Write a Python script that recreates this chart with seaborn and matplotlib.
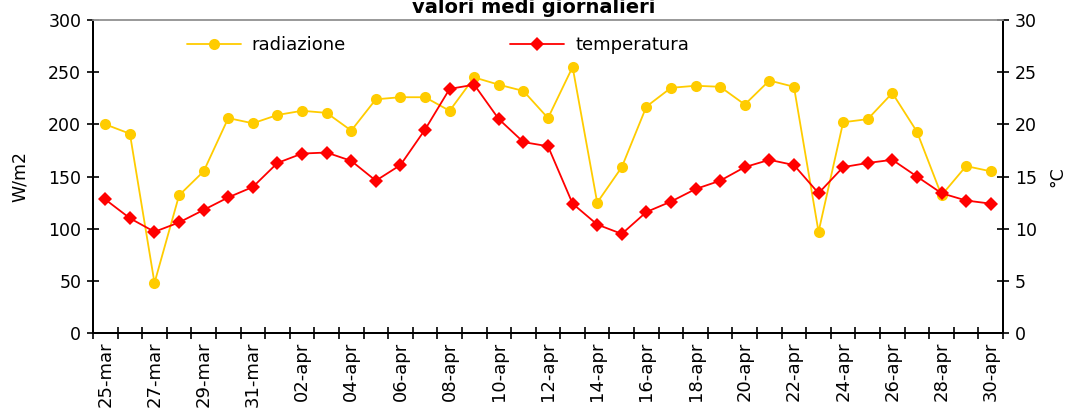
import pandas as pd
import seaborn as sns
import matplotlib.pyplot as plt
from matplotlib.ticker import FixedLocator, MultipleLocator

# daily values, 25-mar .. 30-apr
days = ['25-mar', '26-mar', '27-mar', '28-mar', '29-mar', '30-mar', '31-mar',
        '01-apr', '02-apr', '03-apr', '04-apr', '05-apr', '06-apr', '07-apr',
        '08-apr', '09-apr', '10-apr', '11-apr', '12-apr', '13-apr', '14-apr',
        '15-apr', '16-apr', '17-apr', '18-apr', '19-apr', '20-apr', '21-apr',
        '22-apr', '23-apr', '24-apr', '25-apr', '26-apr', '27-apr', '28-apr',
        '29-apr', '30-apr']

radiazione = [200, 191, 48, 132, 155, 206, 201, 209, 213, 211, 194, 224, 226,
              226, 213, 245, 238, 232, 206, 255, 125, 159, 217, 235, 237, 236,
              219, 242, 236, 97, 202, 205, 230, 193, 132, 160, 155]

temperatura = [12.8, 11.0, 9.7, 10.6, 11.8, 13.0, 14.0, 16.3, 17.2, 17.3, 16.5,
               14.6, 16.1, 19.5, 23.4, 23.8, 20.5, 18.3, 17.9, 12.4, 10.4, 9.5,
               11.6, 12.6, 13.8, 14.6, 15.9, 16.6, 16.1, 13.4, 15.9, 16.3, 16.6,
               15.0, 13.4, 12.7, 12.4]

df = pd.DataFrame({'pos': range(len(days)), 'day': days,
                   'radiazione': radiazione, 'temperatura': temperatura})

sns.set_style('white')
plt.rcParams['font.family'] = ['DejaVu Sans']
plt.rcParams['text.color'] = 'black'
plt.rcParams['axes.labelcolor'] = 'black'
plt.rcParams['xtick.color'] = 'black'
plt.rcParams['ytick.color'] = 'black'

fig = plt.figure(figsize=(10.74, 4.17), dpi=100)
ax = fig.add_axes([0.0866, 0.2014, 0.8473, 0.7506])
ax2 = ax.twinx()

sns.lineplot(data=df, x='pos', y='radiazione', color='#FFCC00', marker='o',
             markersize=8, markeredgewidth=0, linewidth=1.3,
             label='radiazione', ax=ax, legend=False)
sns.lineplot(data=df, x='pos', y='temperatura', color='#FF0000', marker='D',
             markersize=7.5, markeredgewidth=0, linewidth=1.3,
             label='temperatura', ax=ax2, legend=False)

n = len(days)
ax.set_xlim(-0.5, n - 0.5)
ax.set_ylim(0, 300)
ax2.set_ylim(0, 30)
ax.yaxis.set_major_locator(MultipleLocator(50))
ax2.yaxis.set_major_locator(MultipleLocator(5))

# labels every 2 days, tick marks on category boundaries
ax.set_xticks(range(0, n, 2))
ax.set_xticklabels(days[::2], rotation=90, fontsize=13)
ax.xaxis.set_minor_locator(FixedLocator([i - 0.5 for i in range(n + 1)]))
ax.tick_params(axis='x', which='major', length=0, pad=6)
ax.tick_params(axis='x', which='minor', bottom=True, direction='inout',
               length=8, width=1.2, color='black')
ax.tick_params(axis='y', left=True, direction='inout', length=9, width=1.2,
               labelsize=12.5, pad=4)
ax2.tick_params(axis='y', right=True, direction='inout', length=9, width=1.2,
                labelsize=12.5, pad=4)

ax.set_xlabel('')
ax.set_ylabel('W/m2', fontsize=12.5, labelpad=14)
ax2.set_ylabel('°C', fontsize=12.5, labelpad=8)

for a in (ax, ax2):
    for side in ('left', 'bottom', 'right'):
        a.spines[side].set_color('black')
        a.spines[side].set_linewidth(1.4)
    a.spines['top'].set_color('#999999')
    a.spines['top'].set_linewidth(1.2)

h1, l1 = ax.get_legend_handles_labels()
h2, l2 = ax2.get_legend_handles_labels()
ax2.legend(h1 + h2, l1 + l2, ncol=2, frameon=False, fontsize=13,
           loc='upper left', bbox_to_anchor=(0.085, 1.0),
           columnspacing=9.1, handlelength=3.0, handletextpad=0.6)

fig.text(0.497, 0.968, 'valori medi giornalieri', ha='center', va='baseline',
         fontsize=14, fontweight='bold')

fig.savefig('out.png', dpi=100)
